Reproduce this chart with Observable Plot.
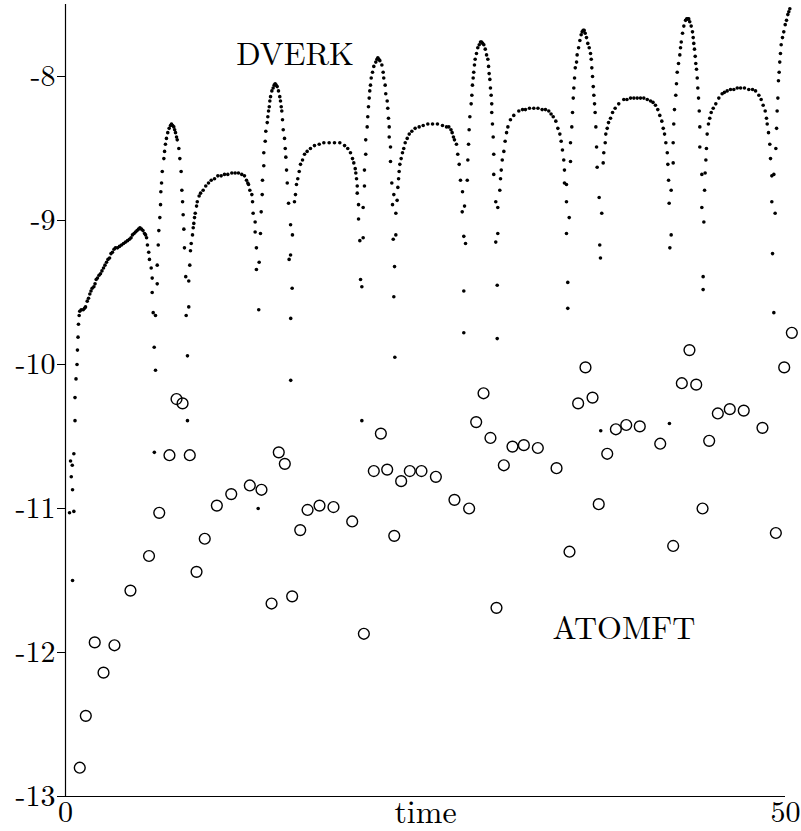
<!DOCTYPE html>
<html><head><meta charset="utf-8">
<script src="https://cdn.jsdelivr.net/npm/d3@7"></script>
<script src="https://cdn.jsdelivr.net/npm/@observablehq/plot@0.6"></script>
<style>body{margin:0;background:#fff}</style>
</head><body><div id="chart"></div>
<script>
// DVERK error estimates (log10), dense dots
const dverkTime = [
  0.49,0.28,0.58,0.49,0.40,0.47,0.35,0.58,0.66,0.66,0.73,0.80,0.83,0.87,0.90,0.95,0.99,
  1.09,1.23,1.32,1.39,1.51,1.60,1.69,1.77,1.85,1.97,2.05,2.13,2.22,2.33,2.43,2.53,2.64,2.74,2.85,2.95,3.06,3.16,3.26,3.37,3.47,3.61,3.75,3.89,4.03,4.17,4.31,4.44,4.55,4.65,4.76,4.86,4.97,5.07,5.17,5.28,5.38,5.49,5.56,5.63,
  5.69,5.78,5.83,5.95,6.02,6.02,6.09,6.25,6.16,6.25,6.17,6.37,6.37,
  6.44,6.48,6.55,6.60,6.62,6.67,6.72,6.83,6.88,6.94,7.01,7.10,7.20,7.29,7.36,7.44,7.52,7.58,7.64,7.71,7.76,7.87,7.94,8.03,8.08,8.13,8.17,8.22,8.26,8.35,8.38,8.47,8.47,8.56,8.56,
  8.63,8.68,8.73,8.82,8.87,8.91,8.96,9.01,9.10,9.15,9.28,9.38,9.56,9.74,9.93,10.12,10.35,10.58,10.81,11.04,11.27,11.55,11.78,12.01,12.24,12.43,12.57,12.66,12.71,12.80,12.94,12.99,13.03,13.17,13.17,13.26,13.26,13.45,13.42,13.38,
  13.54,13.59,13.66,13.68,13.77,13.77,13.87,13.91,14.01,14.05,14.10,14.15,14.19,14.24,14.33,14.42,14.49,14.56,14.63,14.70,14.79,14.88,14.93,14.98,15.02,15.07,15.12,15.21,15.26,15.30,15.35,15.40,15.49,15.63,15.53,15.63,15.74,15.64,15.64,15.76,15.90,
  15.97,16.04,16.13,16.23,16.32,16.46,16.60,16.78,17.01,17.29,17.62,17.94,18.31,18.68,19.05,19.38,19.60,19.79,19.93,20.02,20.12,20.16,20.21,20.26,20.26,20.35,20.35,20.67,20.44,20.67,20.49,20.58,20.58,
  20.76,20.76,20.85,20.85,20.95,20.99,21.04,21.09,21.13,21.18,21.23,21.32,21.41,21.55,21.63,21.69,21.76,21.83,21.97,22.06,22.10,22.20,22.24,22.34,22.38,22.43,22.48,22.48,22.57,22.57,22.66,22.71,22.80,22.94,22.76,22.94,22.85,22.80,22.87,
  23.03,23.08,23.13,23.17,23.22,23.31,23.40,23.49,23.59,23.73,23.87,24.05,24.28,24.56,24.84,25.16,25.49,25.83,26.18,26.46,26.62,26.77,26.85,26.94,27.01,27.15,27.24,27.34,27.43,27.57,27.55,27.71,27.66,27.78,27.66,27.66,
  27.90,27.94,27.99,28.03,28.08,28.17,28.22,28.26,28.31,28.35,28.40,28.45,28.54,28.63,28.73,28.82,28.89,28.97,29.05,29.15,29.24,29.33,29.38,29.42,29.47,29.51,29.56,29.60,29.60,29.65,29.70,29.74,29.74,29.88,30.02,30.02,29.88,29.98,29.98,
  30.16,30.21,30.26,30.33,30.44,30.53,30.63,30.72,30.90,31.13,31.48,31.74,31.94,32.22,32.52,32.81,33.10,33.33,33.56,33.72,33.87,34.05,34.19,34.33,34.42,34.51,34.60,34.65,34.65,34.79,34.79,34.98,34.79,34.88,34.88,
  35.07,35.07,35.16,35.21,35.26,35.30,35.35,35.40,35.49,35.53,35.63,35.72,35.81,35.88,35.95,36.02,36.09,36.18,36.27,36.37,36.46,36.51,36.55,36.60,36.65,36.69,36.74,36.78,36.83,36.88,36.92,37.06,37.24,37.10,37.15,37.17,
  37.34,37.38,37.48,37.52,37.62,37.71,37.85,37.99,38.17,38.42,38.77,38.99,39.24,39.47,39.70,39.93,40.16,40.40,40.63,40.80,40.97,41.13,41.27,41.41,41.51,41.60,41.69,41.79,41.83,41.88,41.92,42.06,42.06,41.97,41.94,
  42.20,42.20,42.24,42.29,42.38,42.43,42.48,42.57,42.66,42.71,42.76,42.85,42.94,43.06,43.14,43.22,43.28,43.35,43.45,43.54,43.59,43.63,43.68,43.73,43.77,43.82,43.87,43.91,43.96,44.01,44.05,44.05,44.19,44.19,44.33,44.28,44.28,
  44.38,44.42,44.47,44.51,44.56,44.65,44.74,44.84,44.98,45.16,45.37,45.60,45.76,45.95,46.18,46.41,46.65,46.88,47.15,47.45,47.71,47.92,48.15,48.31,48.45,48.59,48.68,48.73,48.82,48.91,48.96,49.05,49.19,49.05,49.28,49.10,49.19,
  49.33,49.38,49.42,49.47,49.51,49.56,49.60,49.65,49.70,49.79,49.88,49.98,50.07,50.16,50.23,50.30
];
const dverkValue = [
  -11.50,-11.03,-11.02,-10.87,-10.78,-10.70,-10.67,-10.62,-10.39,-10.23,-10.10,-10.00,-9.90,-9.81,-9.72,-9.66,-9.63,
  -9.62,-9.62,-9.61,-9.60,-9.56,-9.54,-9.51,-9.49,-9.47,-9.46,-9.44,-9.41,-9.40,-9.38,-9.37,-9.35,-9.33,-9.31,-9.29,-9.27,-9.26,-9.23,-9.22,-9.20,-9.19,-9.19,-9.18,-9.17,-9.16,-9.15,-9.14,-9.13,-9.12,-9.10,-9.09,-9.08,-9.07,-9.06,-9.05,-9.06,-9.07,-9.09,-9.10,-9.12,
  -9.17,-9.22,-9.27,-9.33,-9.40,-9.50,-9.64,-9.66,-9.88,-10.04,-10.61,-9.31,-9.44,
  -9.17,-9.07,-8.98,-8.89,-8.80,-8.74,-8.66,-8.57,-8.52,-8.47,-8.43,-8.39,-8.36,-8.34,-8.33,-8.34,-8.35,-8.37,-8.39,-8.42,-8.44,-8.50,-8.57,-8.66,-8.79,-8.87,-8.96,-9.06,-9.19,-9.39,-9.66,-9.94,-10.39,-9.42,-9.60,
  -9.31,-9.21,-9.16,-9.10,-9.05,-9.02,-8.98,-8.95,-8.90,-8.87,-8.83,-8.81,-8.79,-8.76,-8.74,-8.72,-8.71,-8.69,-8.69,-8.68,-8.68,-8.67,-8.67,-8.67,-8.68,-8.69,-8.72,-8.74,-8.75,-8.79,-8.82,-8.87,-8.95,-9.01,-9.08,-9.19,-9.34,-9.29,-9.62,-11.00,
  -9.09,-8.94,-8.82,-8.72,-8.62,-8.53,-8.45,-8.38,-8.32,-8.28,-8.24,-8.21,-8.17,-8.14,-8.10,-8.08,-8.06,-8.05,-8.06,-8.07,-8.10,-8.14,-8.17,-8.21,-8.24,-8.30,-8.37,-8.43,-8.50,-8.56,-8.65,-8.74,-8.88,-9.03,-9.27,-9.24,-9.47,-9.68,-10.11,-9.10,-8.87,
  -8.82,-8.75,-8.71,-8.66,-8.61,-8.58,-8.54,-8.52,-8.50,-8.48,-8.47,-8.46,-8.46,-8.46,-8.46,-8.48,-8.50,-8.53,-8.57,-8.60,-8.64,-8.67,-8.71,-8.76,-8.81,-8.89,-8.99,-8.91,-9.14,-9.12,-9.41,-9.46,-10.39,
  -8.76,-8.65,-8.54,-8.44,-8.35,-8.28,-8.21,-8.15,-8.10,-8.06,-8.01,-7.97,-7.93,-7.90,-7.88,-7.87,-7.88,-7.89,-7.92,-7.97,-8.01,-8.06,-8.12,-8.17,-8.22,-8.29,-8.35,-8.42,-8.49,-8.59,-8.74,-8.89,-8.82,-8.95,-9.13,-9.10,-9.32,-9.53,-9.95,
  -8.86,-8.77,-8.71,-8.66,-8.61,-8.57,-8.53,-8.50,-8.46,-8.43,-8.40,-8.38,-8.36,-8.35,-8.34,-8.33,-8.33,-8.33,-8.34,-8.35,-8.35,-8.37,-8.39,-8.42,-8.44,-8.47,-8.54,-8.61,-8.72,-8.80,-8.94,-8.90,-9.11,-9.16,-9.49,-9.78,
  -8.72,-8.58,-8.47,-8.37,-8.28,-8.19,-8.13,-8.06,-8.01,-7.97,-7.92,-7.88,-7.84,-7.80,-7.78,-7.76,-7.76,-7.77,-7.78,-7.81,-7.85,-7.88,-7.93,-7.98,-8.02,-8.08,-8.13,-8.19,-8.25,-8.33,-8.42,-8.54,-8.68,-8.87,-8.91,-9.09,-9.15,-9.45,-9.82,
  -8.79,-8.71,-8.65,-8.58,-8.52,-8.45,-8.39,-8.35,-8.30,-8.27,-8.24,-8.23,-8.23,-8.22,-8.22,-8.22,-8.23,-8.23,-8.24,-8.26,-8.28,-8.31,-8.36,-8.40,-8.45,-8.51,-8.58,-8.65,-8.74,-8.75,-8.87,-8.98,-9.09,-9.43,-9.61,
  -8.59,-8.46,-8.35,-8.25,-8.15,-8.08,-8.01,-7.94,-7.90,-7.85,-7.80,-7.75,-7.71,-7.69,-7.68,-7.68,-7.70,-7.73,-7.77,-7.80,-7.84,-7.88,-7.94,-8.00,-8.07,-8.13,-8.19,-8.25,-8.35,-8.49,-8.63,-8.84,-8.95,-9.17,-9.26,-10.46,
  -8.60,-8.53,-8.46,-8.40,-8.36,-8.32,-8.29,-8.25,-8.22,-8.19,-8.16,-8.16,-8.15,-8.15,-8.15,-8.15,-8.15,-8.16,-8.17,-8.18,-8.20,-8.23,-8.27,-8.31,-8.36,-8.40,-8.46,-8.53,-8.61,-8.72,-8.88,-8.79,-9.10,-9.19,-10.41,
  -8.60,-8.46,-8.33,-8.23,-8.13,-8.05,-7.97,-7.91,-7.85,-7.80,-7.76,-7.70,-7.65,-7.61,-7.60,-7.60,-7.60,-7.62,-7.65,-7.69,-7.73,-7.77,-7.81,-7.86,-7.91,-7.95,-8.01,-8.08,-8.15,-8.24,-8.35,-8.49,-8.68,-8.91,-9.01,-9.39,-9.48,
  -8.79,-8.67,-8.58,-8.50,-8.40,-8.33,-8.29,-8.25,-8.22,-8.19,-8.15,-8.12,-8.11,-8.10,-8.09,-8.09,-8.08,-8.08,-8.08,-8.09,-8.09,-8.10,-8.13,-8.16,-8.20,-8.24,-8.29,-8.33,-8.39,-8.47,-8.57,-8.69,-8.68,-8.87,-8.95,-9.23,-9.64,
  -8.50,-8.36,-8.24,-8.15,-8.03,-7.97,-7.90,-7.84,-7.78,-7.73,-7.69,-7.64,-7.61,-7.57,-7.55,-7.53
];
// ATOMFT error estimates (open circles)
const atomftTime = [
  0.99,1.41,2.03,2.64,3.40,4.51,5.80,6.51,7.22,7.71,8.13,8.63,9.10,9.67,10.51,11.51,12.80,13.61,14.31,14.81,
  15.23,15.74,16.30,16.81,17.64,18.61,19.91,20.72,21.41,21.90,22.34,22.83,23.31,23.91,24.72,25.72,27.01,28.03,28.52,29.03,
  29.51,29.93,30.44,31.04,31.83,32.80,34.10,35.00,35.60,36.11,36.60,37.03,37.62,38.22,38.94,39.88,41.30,42.20,42.80,43.33,
  43.80,44.24,44.70,45.30,46.13,47.10,48.40,49.33,49.91,50.44
];
const atomftValue = [
  -12.80,-12.44,-11.93,-12.14,-11.95,-11.57,-11.33,-11.03,-10.63,-10.24,-10.27,-10.63,-11.44,-11.21,-10.98,-10.90,-10.84,-10.87,-11.66,-10.61,
  -10.69,-11.61,-11.15,-11.01,-10.98,-10.99,-11.09,-11.87,-10.74,-10.48,-10.73,-11.19,-10.81,-10.74,-10.74,-10.78,-10.94,-11.00,-10.40,-10.20,
  -10.51,-11.69,-10.70,-10.57,-10.56,-10.58,-10.72,-11.30,-10.27,-10.02,-10.23,-10.97,-10.62,-10.45,-10.42,-10.43,-10.55,-11.26,-10.13,-9.90,
  -10.14,-11.00,-10.53,-10.34,-10.31,-10.32,-10.44,-11.17,-10.02,-9.78
];
const yTicks = [-8, -9, -10, -11, -12, -13];
const xTicks = [0, 50];
const seriesLabels = ["DVERK", "ATOMFT"];
const xLabel = "time";

const dverk = dverkTime.map((t, i) => ({time: t, value: dverkValue[i]}));
const atomft = atomftTime.map((t, i) => ({time: t, value: atomftValue[i]}));

const chart = Plot.plot({
  width: 801,
  height: 831,
  marginLeft: 65,
  marginRight: 16,
  marginTop: 4,
  marginBottom: 35,
  style: {fontFamily: "'Latin Modern Roman','CMU Serif','Liberation Serif',serif", fontSize: "30px", color: "#000", background: "#fff"},
  x: {domain: [0, 50]},
  y: {domain: [-13, -7.5]},
  marks: [
    Plot.axisY({ticks: yTicks, tickSize: 8, tickPadding: 2, tickFormat: d => String(d), label: null, fontSize: 30}),
    Plot.axisX({ticks: xTicks, tickSize: 0, tickPadding: 4, tickFormat: d => String(d), label: null, fontSize: 30}),
    Plot.ruleX([0], {stroke: "#000", strokeWidth: 1.2}),
    Plot.ruleY([-13], {stroke: "#000", strokeWidth: 1.2}),
    Plot.text([xLabel], {frameAnchor: "bottom", lineAnchor: "top", dy: 4, fontSize: 32}),
    Plot.dot(dverk, {x: "time", y: "value", r: 1.8, fill: "#000", stroke: "none"}),
    Plot.dot(atomft, {x: "time", y: "value", r: 5.4, fill: "none", stroke: "#000", strokeWidth: 1.4}),
    Plot.text([seriesLabels[0]], {x: 15.94, y: -7.846, fontSize: 32}),
    Plot.text([seriesLabels[1]], {x: 38.78, y: -11.834, fontSize: 32})
  ]
});
document.getElementById("chart").appendChild(chart);
</script>
</body></html>
